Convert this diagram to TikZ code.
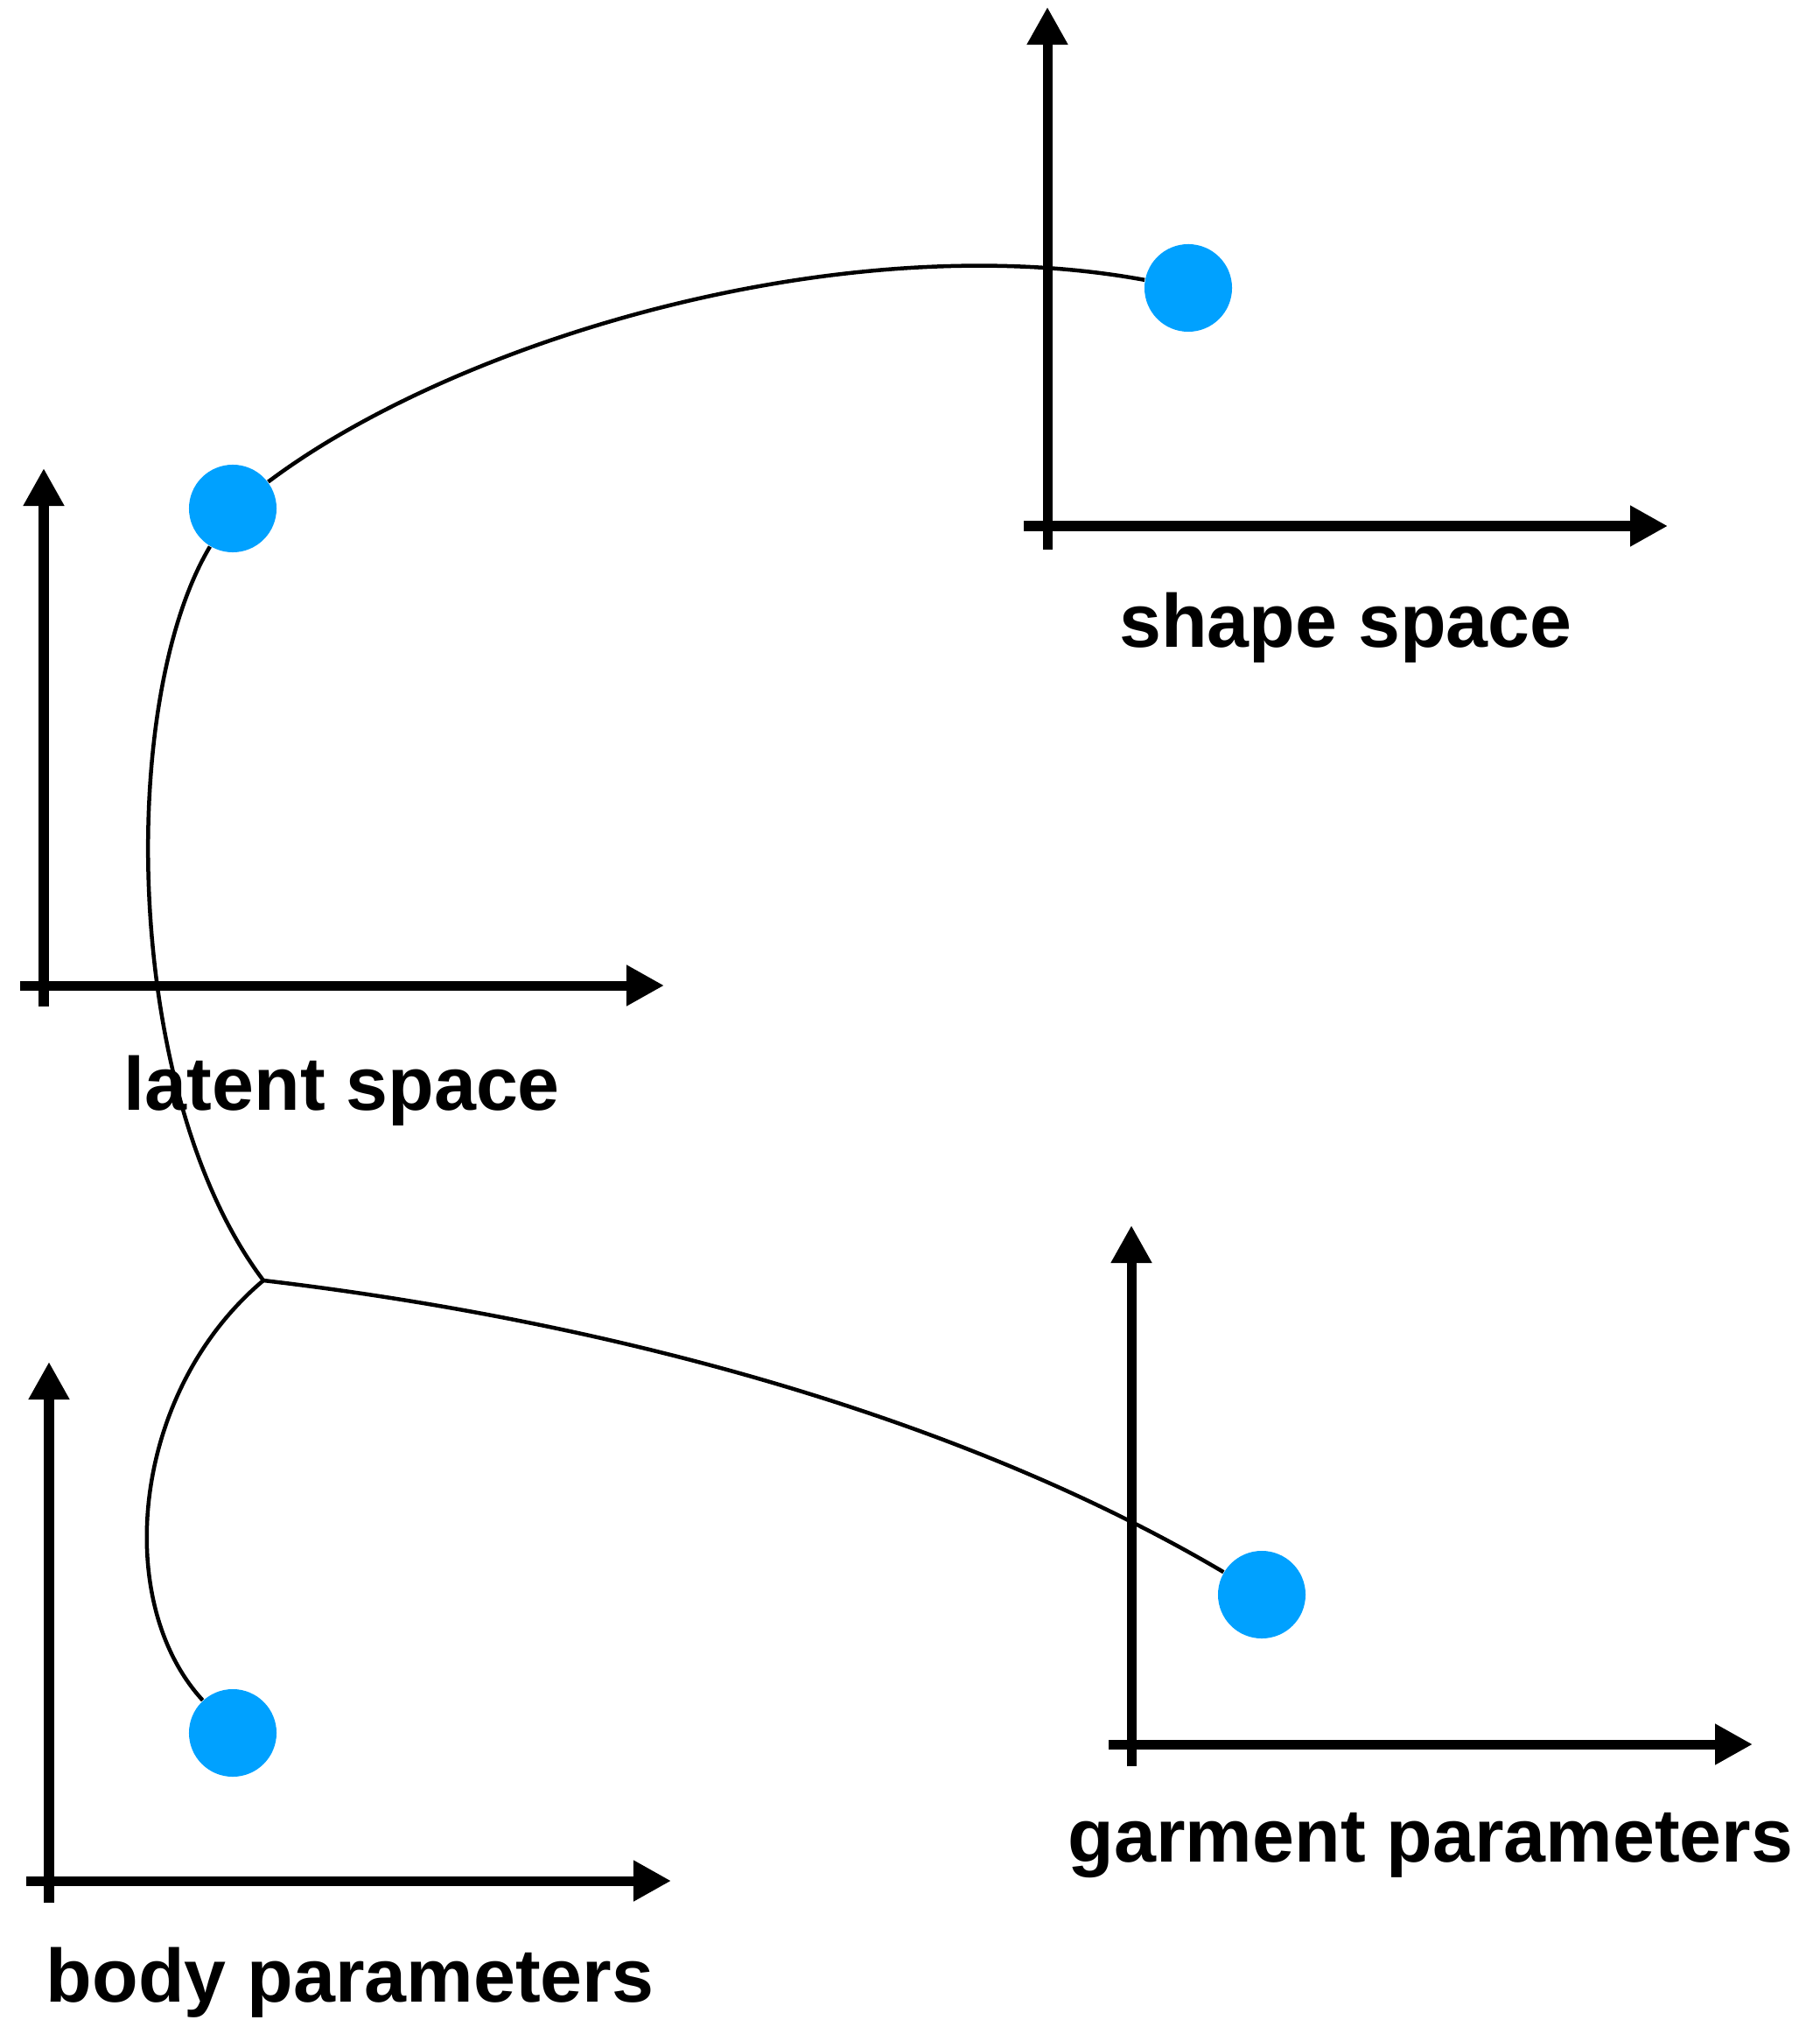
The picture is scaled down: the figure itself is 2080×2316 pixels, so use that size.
\documentclass[tikz,border=0pt]{standalone}
\usepackage{fontspec}
\setmainfont{Liberation Sans}
\usetikzlibrary{arrows.meta}
\definecolor{dotblue}{RGB}{0,161,255}

\begin{document}
\begin{tikzpicture}[x=0.01cm, y=-0.01cm,
  axis/.style={line width=0.11cm, -{Triangle[length=0.43cm,width=0.44cm]}},
  link/.style={line width=0.045cm},
  dot/.style={circle, fill=dotblue, minimum size=1cm, inner sep=0pt},
  lbl/.style={anchor=base, font=\fontsize{24.5}{29}\selectfont\bfseries}]

  \useasboundingbox (0,0) rectangle (2080,2316);

  % latent space axes
  \draw[axis] (50,1150) -- (50,535);
  \draw[axis] (23,1126) -- (759,1126);
  \node[lbl] (latlbl) at (391,1268) {latent space};

  % shape space axes
  \draw[axis] (1197,628) -- (1197,8);
  \draw[axis] (1170,601) -- (1906,601);
  \node[lbl] (shplbl) at (1538,739) {shape space};

  % body parameter axes
  \draw[axis] (56,2174) -- (56,1556);
  \draw[axis] (30,2149) -- (767,2149);
  \node[lbl] (bodlbl) at (400,2287) {body parameters};

  % garment parameter axes
  \draw[axis] (1293,2018) -- (1293,1400);
  \draw[axis] (1267,1993) -- (2003,1993);
  \node[lbl] (garlbl) at (1635,2127) {garment parameters};

  % points in each space
  \node[dot] (lat) at (266,581) {};
  \node[dot] (shp) at (1358,329) {};
  \node[dot] (bod) at (266,1980) {};
  \node[dot] (gar) at (1442,1822) {};
  \coordinate (jn) at (301,1463);

  % mappings between the spaces
  \draw[link] (lat) .. controls (520,390) and (960,256) .. (shp);
  \draw[link] (lat) .. controls (135,800) and (140,1250) .. (jn);
  \draw[link] (jn) .. controls (150,1590) and (128,1830) .. (bod);
  \draw[link] (jn) .. controls (700,1510) and (1100,1620) .. (gar);

\end{tikzpicture}
\end{document}
